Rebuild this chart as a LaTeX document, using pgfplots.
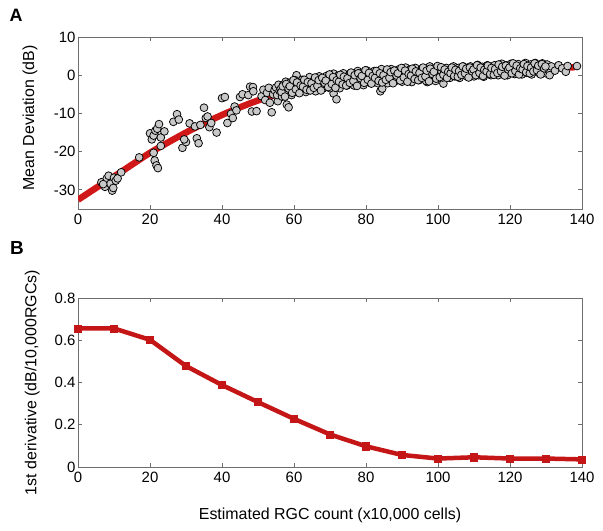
\documentclass[border=0pt]{standalone}
\usepackage{pgfplots}
\pgfplotsset{compat=1.18}
\usepackage{fontspec}
\setmainfont{Liberation Sans}
\definecolor{fitred}{RGB}{208,24,24}
\definecolor{derred}{RGB}{196,22,22}
\definecolor{axgray}{RGB}{110,110,110}
\definecolor{dotfill}{RGB}{200,200,200}
\pgfplotsset{
  mystyle/.style={
    scale only axis, width=504bp,
    axis line style={axgray, line width=0.9pt},
    tick style={axgray, line width=0.8pt},
    tick align=inside, major tick length=4bp,
    xtick pos=both, ytick pos=both,
    xmin=0, xmax=140, xtick={0,20,...,140},
    /pgf/number format/assume math mode=true,
    tick label style={font=\fontsize{15}{15}\selectfont, text=black},
    xticklabel style={yshift=-1.5bp},
    yticklabel style={xshift=1bp},
    label style={font=\fontsize{16}{16}\selectfont},
  }
}
\begin{document}
\begin{tikzpicture}[x=1bp,y=1bp]
\path[use as bounding box] (0,0) rectangle (603,531);
\node[anchor=center, font=\fontsize{18}{18}\selectfont\bfseries] at (16,516) {A};
\node[anchor=center, font=\fontsize{19}{19}\selectfont\bfseries] at (17,283) {B};
\begin{axis}[mystyle, at={(78bp,322bp)}, anchor=south west, height=172bp,
  ymin=-35, ymax=10, ytick={-30,-20,-10,0,10},
  ylabel={Mean Deviation (dB)},
  ylabel style={at={(axis description cs:-0.095,0.53)}, anchor=center},
  clip=true]
\addplot[fitred, line width=6.5bp, smooth, tension=0.5] coordinates {
(0,-32.6) (5,-29.5) (10,-26.5) (15,-23.4) (20,-20.3) (25,-17.6) (30,-15.0) (35,-12.6) (40,-10.4) (45,-8.4) (50,-6.6) (55,-5.1) (60,-3.9) (70,-2.0) (80,-0.7) (90,0.2) (100,0.7) (110,1.1) (120,1.5) (130,1.8) (138,2.1)};
\addplot[only marks, mark=*, mark size=3.9bp, mark options={fill=dotfill, draw=black, line width=0.75pt}] coordinates {
(6.5,-28.0) (7.5,-29.2) (8,-27.0) (8.5,-26.3) (9,-28.4) (9.5,-30.2) (10,-26.8) (10.5,-27.6) (11,-27.0) (12,-25.4) (7,-28.5) (9.8,-29.5)
(17,-21.5) (20,-15.2) (20.5,-16.8) (21,-15.8) (21.5,-14.5) (22,-14) (22.5,-12.8) (23,-16.3) (24,-14.7) (21,-20.3) (21.3,-22.3) (21.8,-23.6) (22.2,-24.3) (23,-18.5)
(26.5,-12.2) (27.5,-10.2) (28,-11.6) (29,-19.0) (30,-17.5) (29.5,-16.8)
(31,-12.6) (32.5,-13.4) (33,-16.5) (33.5,-17.8) (34,-13.0) (35,-8.5) (35.5,-11.2) (36,-10.8) (36.5,-13.6) (37,-12.5) (38.5,-15.0)
(40,-6.0) (40.8,-5.7) (41.5,-12.5) (42.5,-10.1) (43,-11.2) (43.5,-8.2) (44,-9.2) (45,-5.7) (45.7,-5.0) (47.3,-5.2) (47.8,-3.0) (48.6,-3.1) (48.7,-4.2) (48.3,-9.5) (49.6,-9.4)
(51,-5.5) (51.5,-3.8) (52,-6.5) (52.5,-4.6) (53,-3.3) (53.3,-7.2) (53.8,-9.7) (54.2,-5.0) (54.6,-3.9) (55.5,-6.8) (56.5,-4.5) (57.5,-2.2) (58,-7.7) (58.5,-8.4) (60.7,0.0)
(71,-4.8) (71.8,-6.3) (84,-4.2) (84.5,-3.5) (97,-1.8) (101.5,-2.2)
(55,-3.2) (55.3,-5.2) (55.7,-2.5) (56,-4.1) (56.3,-3.6) (56.7,-5.6) (57,-2.5) (57.3,-4.3) (57.7,-1.7)
(58,-4.8) (58.3,-2.9) (58.7,-3.5) (59,-1.9) (59.3,-5.2) (59.7,-2.3) (60,-3.6) (60.3,-1.3) (60.7,-4.0)
(61,-2.6) (61.3,-4.5) (61.7,-2.1) (62,-3.9) (62.3,-1.2) (62.7,-3.0) (63,-2.4) (63.3,-4.4) (63.7,-1.5)
(64,-3.1) (64.3,-0.5) (64.7,-3.8) (65,-1.8) (65.3,-2.4) (65.7,-1.0) (66,-4.2) (66.3,-1.3) (66.7,-2.8)
(67,-0.3) (67.3,-3.0) (67.7,-1.7) (68,-3.5) (68.3,-1.1) (68.7,-3.1) (69,-0.2) (69.3,-2.0) (69.7,-1.5)
(70,-3.4) (70.3,-0.5) (70.7,-2.3) (71,0.4) (71.3,-2.9) (71.7,-1.0) (72,-1.5) (72.3,-0.1) (72.7,-3.4)
(73,-0.3) (73.3,-1.8) (73.7,0.5) (74,-2.1) (74.3,-0.8) (74.7,-2.7) (75,-0.2) (75.3,-2.2) (75.7,0.5)
(76,-1.2) (76.3,-0.7) (76.7,-2.7) (77,0.3) (77.3,-1.5) (77.7,1.1) (78,-2.1) (78.3,-0.2) (78.7,-0.8)
(79,0.7) (79.3,-2.6) (79.7,0.3) (80,-1.1) (80.3,1.2) (80.7,-1.5) (81,-0.1) (81.3,-2.0) (81.7,0.4)
(82,-1.6) (82.3,1.1) (82.7,-0.7) (83,-0.1) (83.3,-2.1) (83.7,0.8) (84,-1.0) (84.3,1.6) (84.7,-1.7)
(85,0.3) (85.3,-0.3) (85.7,1.1) (86,-2.1) (86.3,0.8) (86.7,-0.7) (87,1.6) (87.3,-1.1) (87.7,0.2)
(88,-1.6) (88.3,0.8) (88.7,-1.2) (89,1.5) (89.3,-0.3) (89.7,0.2) (90,-1.7) (90.3,1.2) (90.7,-0.6)
(91,2.0) (91.3,-1.3) (91.7,0.6) (92,0.1) (92.3,1.5) (92.7,-1.8) (93,1.1) (93.3,-0.4) (93.7,1.9)
(94,-0.7) (94.3,0.6) (94.7,-1.3) (95,1.1) (95.3,-0.9) (95.7,1.8) (96,0.0) (96.3,0.5) (96.7,-1.5)
(97,1.5) (97.3,-0.3) (97.7,2.3) (98,-1.0) (98.3,0.9) (98.7,0.3) (99,1.8) (99.3,-1.5) (99.7,1.4)
(100,0.1) (100.3,2.0) (100.7,-0.2) (101,0.9) (101.3,-0.6) (101.7,1.3) (102,-0.3) (102.3,1.9) (102.7,0.5)
(103,0.9) (103.3,-0.7) (103.7,1.6) (104,0.2) (104.3,2.3) (104.7,-0.3) (105,1.3) (105.3,0.8) (105.7,1.9)
(106,-0.7) (106.3,1.6) (106.7,0.4) (107,2.3) (107.3,0.2) (107.7,1.2) (108,-0.3) (108.3,1.6) (108.7,0.0)
(109,2.3) (109.3,0.8) (109.7,1.2) (110,-0.3) (110.3,2.0) (110.7,0.5) (111,2.7) (111.3,0.0) (111.7,1.6)
(112,1.1) (112.3,2.2) (112.7,-0.4) (113,2.0) (113.3,0.8) (113.7,2.6) (114,0.5) (114.3,1.5) (114.7,0.0)
(115,2.0) (115.3,0.4) (115.7,2.6) (116,1.2) (116.3,1.6) (116.7,0.0) (117,2.3) (117.3,0.9) (117.7,3.0)
(118,0.4) (118.3,1.9) (118.7,1.4) (119,2.6) (119.3,0.0) (119.7,2.3) (120,1.1) (120.3,3.0) (120.7,0.8)
(121,1.9) (121.3,0.3) (121.7,2.3) (122,0.7) (122.3,2.9) (122.7,1.4) (123,1.9) (123.3,0.2) (123.7,2.6)
(124,1.2) (124.3,3.2) (124.7,0.6) (125,2.2) (125.3,1.7) (125.7,2.8) (126,0.2) (126.3,2.5) (126.7,1.3)
(127,3.2) (127.3,1.0) (127.7,2.0) (128,0.6) (128.3,2.5) (128.7,0.9) (129,3.1) (129.3,1.6) (129.7,2.0)
(130,0.5) (130.3,2.8) (130.7,1.3) (131,0.0) (131.5,2.3) (132.5,1.2) (133.5,2.6) (134.5,1.8) (135.5,0.9) (136,2.4) (138.6,2.4)
(56.5,-4.4) (56.85,-2.9) (57.5,-5.6) (57.85,-2.3) (58.5,-3.5) (58.85,-2.9) (59.5,-4.6) (59.85,-1.3)
(60.5,-3.7) (60.85,-1.9) (61.5,-4.7) (61.85,-2.7) (62.5,-3.0) (62.85,-1.2) (63.5,-3.8) (63.85,-1.8)
(64.5,-4.0) (64.85,-2.1) (65.5,-3.3) (65.85,-0.6) (66.5,-2.8) (66.85,-1.3) (67.5,-4.0) (67.85,-0.7)
(68.5,-2.0) (68.85,-1.4) (69.5,-3.1) (69.85,0.2) (70.5,-2.3) (70.85,-0.5) (71.5,-3.3) (71.85,-1.3)
(72.5,-1.7) (72.85,0.1) (73.5,-2.4) (73.85,-0.4) (74.5,-2.7) (74.85,-0.8) (75.5,-2.0) (75.85,0.7)
(76.5,-1.5) (76.85,0.0) (77.5,-2.8) (77.85,0.5) (78.5,-0.8) (78.85,-0.2) (79.5,-2.0) (79.85,1.3)
(80.5,-1.2) (80.85,0.6) (81.5,-2.2) (81.85,-0.2) (82.5,-0.7) (82.85,1.1) (83.5,-1.5) (83.85,0.5)
(84.5,-1.9) (84.85,0.0) (85.5,-1.2) (85.85,1.5) (86.5,-0.7) (86.85,0.8) (87.5,-2.1) (87.85,1.2)
(88.5,-0.1) (88.85,0.5) (89.5,-1.4) (89.85,1.9) (90.5,-0.6) (90.85,1.2) (91.5,-1.7) (91.85,0.3)
(92.5,-0.1) (92.85,1.7) (93.5,-1.0) (93.85,1.0) (94.5,-1.3) (94.85,0.6) (95.5,-0.7) (95.85,2.0)
(96.5,-0.3) (96.85,1.2) (97.5,-1.6) (97.85,1.7) (98.5,0.3) (98.85,0.9) (99.5,-0.9) (99.85,2.4)
(100.5,-0.5) (100.85,2.1) (101.5,0.1) (101.85,1.5) (102.5,-0.7) (102.85,0.9) (103.5,0.5) (103.85,2.0)
(104.5,-0.2) (104.85,1.4) (105.5,-0.4) (105.85,1.1) (106.5,0.1) (106.85,2.3) (107.5,0.5) (107.85,1.7)
(108.5,-0.6) (108.85,2.0) (109.5,1.0) (109.85,1.5) (110.5,0.0) (110.85,2.6) (111.5,0.6) (111.85,2.0)
(112.5,-0.2) (112.85,1.4) (113.5,1.0) (113.85,2.5) (114.5,0.3) (114.85,1.9) (115.5,0.1) (115.85,1.6)
(116.5,0.6) (116.85,2.8) (117.5,1.0) (117.85,2.2) (118.5,-0.1) (118.85,2.5) (119.5,1.5) (119.85,2.0)
(120.5,0.5) (120.85,3.1) (121.5,1.1) (121.85,2.5) (122.5,0.2) (122.85,1.8) (123.5,1.5) (123.85,2.9)
(124.5,0.8) (124.85,2.4) (125.5,0.5) (125.85,2.0) (126.5,1.0) (126.85,3.1) (127.5,1.3) (127.85,2.5)
(128.5,0.2) (128.85,2.9) (129.5,1.8) (129.85,2.3)
};
\end{axis}
\begin{axis}[mystyle, at={(78bp,64bp)}, anchor=south west, height=169bp,
  ymin=0, ymax=0.8, ytick={0,0.2,0.4,0.6,0.8},
  yticklabel style={/pgf/number format/fixed},
  ylabel={1st derivative (dB/10,000RGCs)},
  ylabel style={at={(axis description cs:-0.091,0.5)}, anchor=center},
  xlabel={Estimated RGC count (x10,000 cells)},
  xlabel style={at={(axis description cs:0.5,-0.284)}, anchor=center},
  clip=false]
\addplot[derred, line width=4.5bp, mark=square*, mark size=3.6bp, mark options={fill=derred, draw=derred, line width=0.5pt}] coordinates {
(0,0.656) (10,0.656) (20,0.602) (30,0.478) (40,0.388) (50,0.307) (60,0.228) (70,0.154) (80,0.098) (90,0.057) (100,0.040) (110,0.046) (120,0.040) (130,0.040) (140,0.036)};
\end{axis}
\end{tikzpicture}
\end{document}
